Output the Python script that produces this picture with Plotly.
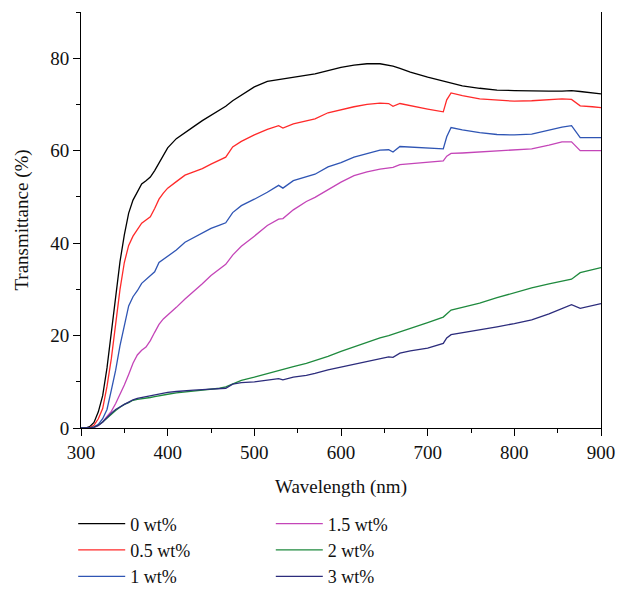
import plotly.graph_objects as go

wavelength = [300, 305, 310, 315, 320, 325, 330, 335, 340, 345, 350, 355, 360, 365, 370, 375, 380, 385, 390, 395,
              400, 410, 420, 430, 440, 450, 460, 467, 475, 485, 500, 515, 528, 533, 545, 560, 570, 585, 600, 615,
              630, 645, 655, 660, 668, 680, 700, 718, 722, 727, 740, 760, 780, 800, 820, 840, 855, 866, 876, 890, 900]

t_0 = [0, 0, 0.3, 1.2, 3.5, 7, 13, 20.5, 28.7, 36, 41.8, 46.5, 49.3, 51.2, 52.8, 53.5, 54.3, 55.7, 57.3, 59.2,
       60.6, 62.6, 64, 65.2, 66.5, 67.6, 68.8, 69.6, 70.8, 72, 73.8, 75, 75.4, 75.5, 75.8, 76.3, 76.6, 77.3, 78, 78.5,
       78.8, 78.8, 78.5, 78.3, 77.8, 77, 75.9, 75, 74.8, 74.5, 74, 73.5, 73.1, 73, 72.9, 72.9, 72.9, 73.0, 72.8, 72.5, 72.3]

t_05 = [0, 0, 0.1, 0.6, 2, 4.2, 9, 15, 23, 30, 35.8, 39.5, 41.5, 42.8, 44.3, 45, 45.7, 47.5, 49.5, 50.8,
        51.9, 53.3, 54.7, 55.4, 56.1, 57.1, 57.9, 58.6, 60.8, 62, 63.4, 64.6, 65.4, 64.9, 65.8, 66.4, 66.9, 68.2, 68.9, 69.5,
        70, 70.3, 70.2, 69.6, 70.2, 69.7, 69, 68.4, 71, 72.5, 71.9, 71.2, 70.9, 70.7, 70.8, 71.1, 71.2, 71.1, 69.7, 69.5, 69.3]

t_1 = [0, 0, 0, 0.2, 0.8, 2, 4, 8.2, 12.5, 17.8, 22.2, 26.4, 28.4, 29.7, 31.3, 32.1, 33, 33.8, 35.8, 36.5,
       37.2, 38.5, 40.2, 41.2, 42.2, 43.2, 43.9, 44.4, 46.6, 48.1, 49.5, 51, 52.5, 51.9, 53.5, 54.4, 54.9, 56.5, 57.4, 58.6,
       59.4, 60.1, 60.2, 59.7, 60.9, 60.8, 60.6, 60.4, 63, 65, 64.5, 63.9, 63.5, 63.4, 63.6, 64.5, 65.1, 65.4, 62.8, 62.8, 62.8]

t_15 = [0, 0, 0, 0.1, 0.5, 1.3, 2.5, 3.6, 5.3, 7.2, 9.3, 11.6, 14, 15.8, 16.8, 17.5, 18.9, 20.7, 22.4, 23.6,
        24.4, 26.1, 27.9, 29.5, 31.2, 33, 34.3, 35.4, 37.4, 39.3, 41.5, 43.8, 45.2, 45.3, 47.2, 49, 49.9, 51.6, 53.2, 54.6,
        55.4, 56, 56.3, 56.4, 57.0, 57.2, 57.5, 57.8, 58.8, 59.4, 59.5, 59.7, 59.9, 60.1, 60.4, 61.2, 61.9, 61.9, 60.0, 60.0, 60.0]

t_2 = [0, 0, 0.05, 0.2, 0.6, 1.3, 2.2, 3.1, 3.8, 4.5, 5.1, 5.5, 6, 6.2, 6.3, 6.4, 6.6, 6.8, 7, 7.2,
       7.3, 7.6, 7.8, 8.0, 8.2, 8.4, 8.6, 8.9, 9.6, 10.3, 11, 11.8, 12.4, 12.7, 13.3, 14, 14.6, 15.5, 16.6, 17.6,
       18.6, 19.5, 20, 20.3, 20.8, 21.6, 22.8, 24, 24.6, 25.5, 26.1, 27, 28.2, 29.3, 30.3, 31.2, 31.7, 32.2, 33.6, 34.2, 34.7]

t_3 = [0, 0, 0.05, 0.2, 0.6, 1.3, 2.3, 3.2, 4, 4.6, 5.1, 5.6, 6.1, 6.4, 6.6, 6.8, 6.9, 7.2, 7.4, 7.6,
       7.7, 7.9, 8.1, 8.2, 8.3, 8.4, 8.4, 8.6, 9.5, 9.8, 10.0, 10.3, 10.7, 10.4, 11, 11.4, 11.8, 12.6, 13.2, 13.8,
       14.3, 14.9, 15.4, 15.3, 16.2, 16.7, 17.3, 18.3, 19.5, 20.2, 20.6, 21.2, 21.9, 22.6, 23.4, 24.7, 25.9, 26.7, 25.9, 26.4, 26.9]

series_names = ["0 wt%", "0.5 wt%", "1 wt%", "1.5 wt%", "2 wt%", "3 wt%"]
series_values = [t_0, t_05, t_1, t_15, t_2, t_3]
series_colors = ["#000000", "#ff2a2a", "#2f55b4", "#c445b8", "#1f8a3e", "#2c2c7c"]
series_legend = ["legend", "legend", "legend", "legend2", "legend2", "legend2"]

FONT = "Liberation Serif"

fig = go.Figure()
for name, vals, col, lg in zip(series_names, series_values, series_colors, series_legend):
    fig.add_trace(go.Scatter(x=wavelength, y=vals, mode="lines", name=name,
                             line=dict(color=col, width=1.3), legend=lg))

legend_common = dict(orientation="v", xanchor="left", yanchor="top", yref="container",
                     font=dict(family=FONT, size=18, color="#111111"),
                     bgcolor="rgba(0,0,0,0)", itemwidth=47, tracegroupgap=0)

fig.update_layout(
    width=617, height=589,
    margin=dict(l=81, r=16, t=12, b=161),
    paper_bgcolor="white", plot_bgcolor="white",
    font=dict(family=FONT, size=19, color="#111111"),
    legend=dict(x=-0.015, y=0.142, **legend_common),
    legend2=dict(x=0.365, y=0.142, **legend_common),
    xaxis=dict(range=[300, 900], tickvals=[300, 400, 500, 600, 700, 800, 900],
               ticks="outside", ticklen=7, tickwidth=1, tickcolor="#000",
               minor=dict(dtick=50, ticks="outside", ticklen=4, tickcolor="#000"),
               showline=True, linecolor="#000", linewidth=1, showgrid=False, zeroline=False,
               automargin=False,
               title=dict(text="Wavelength (nm)", font=dict(family=FONT, size=19), standoff=17),
               tickfont=dict(family=FONT, size=19)),
    yaxis=dict(range=[0, 90], tickvals=[0, 20, 40, 60, 80],
               ticks="outside", ticklen=7, tickwidth=1, tickcolor="#000",
               minor=dict(dtick=10, ticks="outside", ticklen=4, tickcolor="#000"),
               showline=True, linecolor="#000", linewidth=1, mirror=True, showgrid=False, zeroline=False,
               automargin=False,
               title=dict(text="Transmittance (%)", font=dict(family=FONT, size=19), standoff=16),
               tickfont=dict(family=FONT, size=19)),
)

fig.write_html("out.html", config={"displayModeBar": False},
               post_script="document.body.style.margin='0';")
